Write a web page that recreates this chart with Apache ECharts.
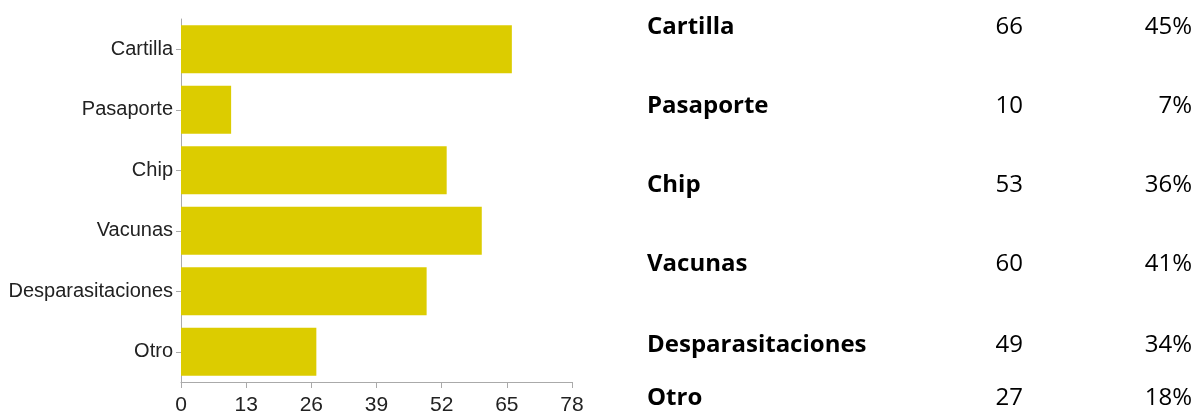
<!DOCTYPE html>
<html>
<head>
<meta charset="utf-8">
<title>Cartilla / Pasaporte / Chip</title>
<script src="https://cdn.jsdelivr.net/npm/echarts@6/dist/echarts.min.js"></script>
<style>
    html, body { margin: 0; padding: 0; background: #fff; }
    #chart { width: 1197px; height: 412px; }
</style>
</head>
<body>
<div id="chart"></div>
<script>
// datos
var categories = ["Cartilla", "Pasaporte", "Chip", "Vacunas", "Desparasitaciones", "Otro"];
var counts = [66, 10, 53, 60, 49, 27];
var percents = ["45%", "7%", "36%", "41%", "34%", "18%"];
var xTicks = [0, 13, 26, 39, 52, 65, 78];

// posicion de las filas de la tabla (px)
var rowY = [27, 106, 185, 264, 345, 398];

var chart = echarts.init(document.getElementById("chart"));

var tableItems = [];
categories.forEach(function (name, i) {
    tableItems.push({
        type: "text",
        x: 647, y: rowY[i],
        style: {
            text: name,
            font: "bold 24px 'Open Sans'",
            fill: "#000",
            align: "left",
            verticalAlign: "middle"
        }
    });
    tableItems.push({
        type: "text",
        x: 1023, y: rowY[i],
        style: {
            text: String(counts[i]),
            font: "24px 'Open Sans'",
            fill: "#000",
            align: "right",
            verticalAlign: "middle"
        }
    });
    tableItems.push({
        type: "text",
        x: 1192, y: rowY[i],
        style: {
            text: percents[i],
            font: "24px 'Open Sans'",
            fill: "#000",
            align: "right",
            verticalAlign: "middle"
        }
    });
});

var option = {
    backgroundColor: "#ffffff",
    animation: false,
    grid: {
        left: 181,
        top: 19,
        width: 391,
        height: 363,
        containLabel: false,
        outerBoundsMode: "none"
    },
    xAxis: {
        type: "value",
        min: xTicks[0],
        max: xTicks[xTicks.length - 1],
        interval: 13,
        axisLine: { show: true, lineStyle: { color: "#aaaaaa", width: 1 } },
        axisTick: { show: true, length: 6, lineStyle: { color: "#aaaaaa" } },
        axisLabel: {
            margin: 13,
            color: "#222",
            fontFamily: "Liberation Sans",
            fontSize: 21
        },
        splitLine: { show: false }
    },
    yAxis: {
        type: "category",
        inverse: true,
        data: categories,
        axisLine: { show: true, lineStyle: { color: "#aaaaaa", width: 1 } },
        axisTick: { show: true, length: 5, alignWithLabel: true, lineStyle: { color: "#aaaaaa" } },
        axisLabel: {
            margin: 8,
            color: "#222",
            fontFamily: "Liberation Sans",
            fontSize: 20
        }
    },
    series: [
        {
            type: "bar",
            data: counts,
            barWidth: 48,
            itemStyle: { color: "#dccc00" }
        }
    ],
    graphic: tableItems
};

chart.setOption(option);
</script>
</body>
</html>
